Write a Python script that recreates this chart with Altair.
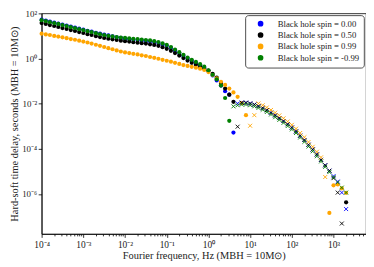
import altair as alt
import pandas as pd

# Fourier frequencies, Hz
freq = [
    1.00e-4, 1.26e-4, 1.58e-4, 2.00e-4, 2.51e-4, 3.16e-4, 3.98e-4, 5.01e-4, 6.31e-4, 7.94e-4,
    1.00e-3, 1.26e-3, 1.58e-3, 2.00e-3, 2.51e-3, 3.16e-3, 3.98e-3, 5.01e-3, 6.31e-3, 7.94e-3,
    1.00e-2, 1.26e-2, 1.58e-2, 2.00e-2, 2.51e-2, 3.16e-2, 3.98e-2, 5.01e-2, 6.31e-2, 7.94e-2,
    1.00e-1, 1.26e-1, 1.58e-1, 2.00e-1, 2.51e-1, 3.16e-1, 3.98e-1, 5.01e-1, 6.31e-1, 7.94e-1,
    1.00e0, 1.26e0, 1.58e0, 2.00e0, 2.51e0, 3.16e0, 3.98e0, 5.01e0, 6.31e0, 7.94e0,
    1.00e1, 1.26e1, 1.58e1, 2.00e1, 2.51e1, 3.16e1, 3.98e1, 5.01e1, 6.31e1, 7.94e1,
    1.00e2, 1.26e2, 1.58e2, 2.00e2, 2.51e2, 3.16e2, 3.98e2, 5.01e2, 6.31e2, 7.94e2,
    1.00e3, 1.26e3, 1.58e3, 2.00e3,
]

# Signed hard-soft lags in seconds (positive -> dot, negative -> cross)
lag_000 = [
    52.5, 47.9, 42.7, 38.9, 35.5, 31.6, 28.8, 25.7, 23.4, 20.9,
    19.1, 17.0, 15.5, 13.8, 12.6, 11.5, 10.5, 9.55, 8.71, 8.13,
    7.59, 7.24, 6.92, 6.61, 6.31, 6.03, 5.75, 5.37, 4.90, 4.27,
    3.63, 2.95, 2.29, 1.74, 1.32, 1.00, 0.794, 0.631, 0.501, 0.389,
    0.282, 0.178, 0.107, 0.0631, 0.0355, 0.0251, 5.25e-4, -0.0102, -0.0110, -0.0110,
    -0.0102, -0.00912, -0.00776, -0.00646, -0.00513, -0.00398, -0.00302, -0.00229, -0.00170, -0.00123,
    -8.71e-4, -5.89e-4, -3.80e-4, -2.45e-4, -1.51e-4, -9.33e-5, -5.62e-5, -3.24e-5, -1.86e-5, -1.07e-5,
    -6.17e-6, -3.55e-6, -1.15e-6, -2.14e-7,
]
lag_050 = [
    37.2, 33.9, 30.2, 27.5, 25.1, 22.4, 20.4, 18.2, 16.6, 14.8,
    13.5, 12.0, 11.0, 9.77, 8.91, 8.13, 7.59, 7.08, 6.61, 6.17,
    5.89, 5.62, 5.25, 5.01, 4.79, 4.57, 4.27, 3.98, 3.63, 3.16,
    2.69, 2.19, 1.74, 1.35, 1.05, 0.813, 0.646, 0.525, 0.437, 0.363,
    0.295, 0.209, 0.141, 0.0832, 0.0468, 0.0251, 0.0120, -9.55e-4, -0.0110, -0.0110,
    -0.0102, -0.00912, -0.00776, -0.00646, -0.00513, -0.00398, -0.00302, -0.00229, -0.00170, -0.00123,
    -8.71e-4, -5.89e-4, -3.80e-4, -2.45e-4, -1.51e-4, -9.33e-5, -5.62e-5, -3.24e-5, -1.86e-5, -1.07e-5,
    -5.01e-6, -1.15e-6, -4.90e-8, 4.27e-7,
]
lag_099 = [
    12.6, 11.7, 11.0, 10.0, 9.33, 8.71, 7.94, 7.24, 6.76, 6.17,
    5.62, 5.13, 4.57, 4.07, 3.63, 3.24, 2.88, 2.57, 2.29, 2.04,
    1.86, 1.74, 1.62, 1.51, 1.38, 1.29, 1.17, 1.07, 0.977, 0.871,
    0.794, 0.724, 0.646, 0.575, 0.513, 0.468, 0.427, 0.389, 0.355, 0.309,
    0.251, 0.186, 0.132, 0.0933, 0.0676, 0.0468, 0.0316, 0.0200, 0.0105, 0.00309,
    -0.00105, -0.00309, -0.0102, -0.00851, -0.00676, -0.00525, -0.00398, -0.00302, -0.00224, -0.00162,
    -0.00115, -7.76e-4, -5.01e-4, -3.24e-4, -2.00e-4, -1.23e-4, -7.41e-5, -4.17e-5, -5.62e-6, 1.45e-7,
    2.40e-6, 2.63e-6, 1.78e-6, 1.12e-6,
]
lag_m099 = [
    50.1, 45.7, 40.7, 37.2, 33.9, 30.2, 27.5, 24.5, 22.4, 20.0,
    18.2, 16.2, 14.8, 13.2, 12.0, 11.0, 10.2, 9.55, 8.91, 8.51,
    8.13, 7.76, 7.41, 7.24, 6.92, 6.61, 6.31, 5.89, 5.37, 4.68,
    3.98, 3.24, 2.51, 1.91, 1.45, 1.10, 0.871, 0.708, 0.562, 0.437,
    0.302, 0.191, 0.120, 0.0631, 0.0178, 0.00174, -0.00759, -0.00851, -0.00912, -0.00912,
    -0.00851, -0.00759, -0.00646, -0.00537, -0.00427, -0.00331, -0.00251, -0.00191, -0.00141, -0.00102,
    -7.24e-4, -5.01e-4, -3.16e-4, -2.04e-4, -1.26e-4, -7.76e-5, -4.68e-5, -2.75e-5, -1.58e-5, -9.33e-6,
    -5.50e-6, -3.24e-6, -1.91e-6, -1.15e-6,
]

labels = [
    "Black hole spin = 0.00",
    "Black hole spin = 0.50",
    "Black hole spin = 0.99",
    "Black hole spin = -0.99",
]
colors = ["#0000ff", "#000000", "#ffa500", "#008000"]
series = [lag_000, lag_050, lag_099, lag_m099]

x_major = [1e-4, 1e-3, 1e-2, 1e-1, 1e0, 1e1, 1e2, 1e3]
x_minor = [m * d for d in x_major for m in (2, 3, 4, 5, 6, 7, 8, 9)]
y_major = [1e2, 1e0, 1e-2, 1e-4, 1e-6]

rows = []
for lab, lags in zip(labels, series):
    for f, v in zip(freq, lags):
        rows.append({"freq": f, "lag": abs(v), "spin": lab, "kind": "pos" if v > 0 else "neg"})
df = pd.DataFrame(rows)

FONT = "Liberation Serif"
L = "(log(datum.value)/LN10)"
is_major = f"abs({L} - round({L})) < 1e-6"
sup = "['⁰','¹','²','³','⁴','⁵','⁶','⁷','⁸','⁹']"
label_expr = f"({is_major}) ? ('10' + (round({L}) < 0 ? '⁻' : '') + {sup}[abs(round({L}))]) : ''"

X_MAX = 6000
xscale = alt.Scale(type="log", domain=[1e-4, X_MAX], nice=False)
yscale = alt.Scale(type="log", domain=[1.7e-8, 100], nice=False)

xenc = alt.X(
    "freq:Q", scale=xscale,
    axis=alt.Axis(
        title="Fourier frequency, Hz (MBH = 10M⊙)",
        values=sorted(x_major + [v for v in x_minor if v <= X_MAX]),
        labelExpr=label_expr,
        tickSize={"condition": {"test": is_major, "value": 3.5}, "value": 2},
        labelOverlap=False, labelFlush=False, grid=False,
        titlePadding=2, labelPadding=2, labelFontSize=9.5,
    ),
)
yenc = alt.Y(
    "lag:Q", scale=yscale,
    axis=alt.Axis(
        title="Hard-soft time delay, seconds (MBH = 10M⊙)",
        values=y_major, labelExpr=label_expr, tickSize=3.5,
        labelOverlap=False, labelFlush=False, grid=False,
        titlePadding=2, labelPadding=1.5, labelFontSize=9,
    ),
)
cscale = alt.Scale(domain=labels, range=colors)

dots = alt.Chart(df[df.kind == "pos"]).mark_point(
    filled=True, shape="circle", size=18, opacity=1, strokeWidth=0
).encode(
    x=xenc, y=yenc,
    color=alt.Color("spin:N", scale=cscale, sort=labels, legend=alt.Legend(
        title=None, orient="top-right", offset=2, padding=4, symbolOffset=7,
        symbolType="circle", symbolSize=18, labelOffset=13, rowPadding=0.5,
        strokeColor="#222222", fillColor="white", cornerRadius=3,
        labelFont=FONT, labelFontSize=8.8, labelColor="#222222",
    )),
)
crosses = alt.Chart(df[df.kind == "neg"]).mark_point(
    shape="M-1,-1L1,1M-1,1L1,-1", filled=False, size=16, opacity=1, strokeWidth=0.9
).encode(
    x=xenc, y=yenc,
    stroke=alt.Stroke("spin:N", scale=cscale, sort=labels, legend=None),
)

chart = alt.layer(dots, crosses).properties(
    width=328, height=223,
    autosize=alt.AutoSizeParams(type="none"),
    padding={"left": 34, "top": 4, "right": 0, "bottom": 28},
).configure_view(
    stroke="black", strokeWidth=0.8
).configure_axis(
    domainColor="black", domainWidth=0.8, tickColor="black", tickWidth=0.8,
    labelFont=FONT, labelColor="#222222",
    titleFont=FONT, titleFontSize=10.5, titleFontWeight="normal", titleColor="#222222",
).configure_legend(
    strokeWidth=0.8,
)

chart.save("out.html", embed_options={"renderer": "svg", "actions": False})
